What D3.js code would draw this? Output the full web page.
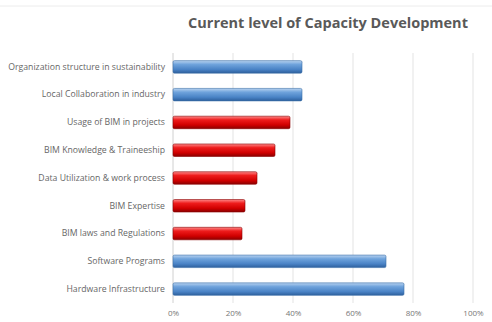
<!DOCTYPE html>
<html>
<head>
<meta charset="utf-8">
<style>
  body { margin: 0; background: #fff; }
  svg { display: block; font-family: "Open Sans", "DejaVu Sans", sans-serif; }
</style>
</head>
<body>
<script src="https://cdnjs.cloudflare.com/ajax/libs/d3/7.8.5/d3.min.js"></script>
<script>
var categories = [
  "Organization structure in sustainability",
  "Local Collaboration in industry",
  "Usage of BIM in projects",
  "BIM Knowledge & Traineeship",
  "Data Utilization & work process",
  "BIM Expertise",
  "BIM laws and Regulations",
  "Software Programs",
  "Hardware Infrastructure"
];
var values = [0.43, 0.43, 0.39, 0.34, 0.28, 0.24, 0.23, 0.71, 0.77];
var groups = ["blue", "blue", "red", "red", "red", "red", "red", "blue", "blue"];
var ticks = [0, 0.2, 0.4, 0.6, 0.8, 1];

var w = 492, h = 322;
var plotL = 173, plotR = 473, plotT = 53, plotB = 303;

var svg = d3.select("body").append("svg")
  .attr("width", w)
  .attr("height", h);

var defs = svg.append("defs");
function grad(id, stops) {
  var g = defs.append("linearGradient").attr("id", id)
    .attr("x1", 0).attr("y1", 0).attr("x2", 0).attr("y2", 1);
  stops.forEach(function(s) {
    g.append("stop").attr("offset", s[0]).attr("stop-color", s[1]);
  });
}
grad("g-blue", [[0, "#b9d3f0"], [0.3, "#6fa3dc"], [0.7, "#4a83c6"], [1, "#2d5f9c"]]);
grad("g-red", [[0, "#ff8a8a"], [0.3, "#ee1c1c"], [0.7, "#d00000"], [1, "#8a0000"]]);

// faint frame line at top
svg.append("line")
  .attr("x1", 0).attr("x2", w).attr("y1", 6).attr("y2", 6)
  .attr("stroke", "#ececec");

var x = d3.scaleLinear().domain([0, 1]).range([plotL, plotR]);
var y = d3.scaleBand().domain(categories).range([plotT, plotB]).paddingInner(0.55).paddingOuter(0.275);

// gridlines
svg.append("g").selectAll("line")
  .data(ticks)
  .enter().append("line")
  .attr("x1", function(d) { return x(d); })
  .attr("x2", function(d) { return x(d); })
  .attr("y1", plotT).attr("y2", plotB)
  .attr("stroke", function(d) { return d === 0 ? "#d0d0d0" : "#e3e3e3"; })
  .attr("stroke-width", 1);

// bars
svg.append("g").selectAll("rect")
  .data(values)
  .enter().append("rect")
  .attr("x", x(0))
  .attr("y", function(d, i) { return y(categories[i]); })
  .attr("width", function(d) { return x(d) - x(0); })
  .attr("height", y.bandwidth())
  .attr("rx", 1.5)
  .attr("fill", function(d, i) { return "url(#g-" + groups[i] + ")"; })
  .attr("stroke", function(d, i) { return groups[i] === "blue" ? "#3a6ea8" : "#8a0000"; })
  .attr("stroke-width", 0.6);

// category labels
var yAxis = d3.axisLeft(y).tickSize(0).tickPadding(8);
var ya = svg.append("g")
  .attr("transform", "translate(" + plotL + ",0)")
  .call(yAxis);
ya.select(".domain").remove();
ya.selectAll("text")
  .attr("fill", "#666")
  .attr("font-size", "8.7px")
  .attr("font-family", "'Open Sans', sans-serif");

// x axis labels
var xAxis = d3.axisBottom(x).tickValues(ticks).tickFormat(d3.format(".0%")).tickSize(0).tickPadding(7);
var xa = svg.append("g")
  .attr("transform", "translate(0," + plotB + ")")
  .call(xAxis);
xa.select(".domain").remove();
xa.selectAll("text")
  .attr("fill", "#777")
  .attr("font-size", "8px")
  .attr("font-family", "'Open Sans', sans-serif");

// title
svg.append("text")
  .attr("x", 328)
  .attr("y", 28)
  .attr("text-anchor", "middle")
  .attr("font-size", "14.5px")
  .attr("font-weight", "bold")
  .attr("fill", "#595959")
  .text("Current level of Capacity Development");
</script>
</body>
</html>
